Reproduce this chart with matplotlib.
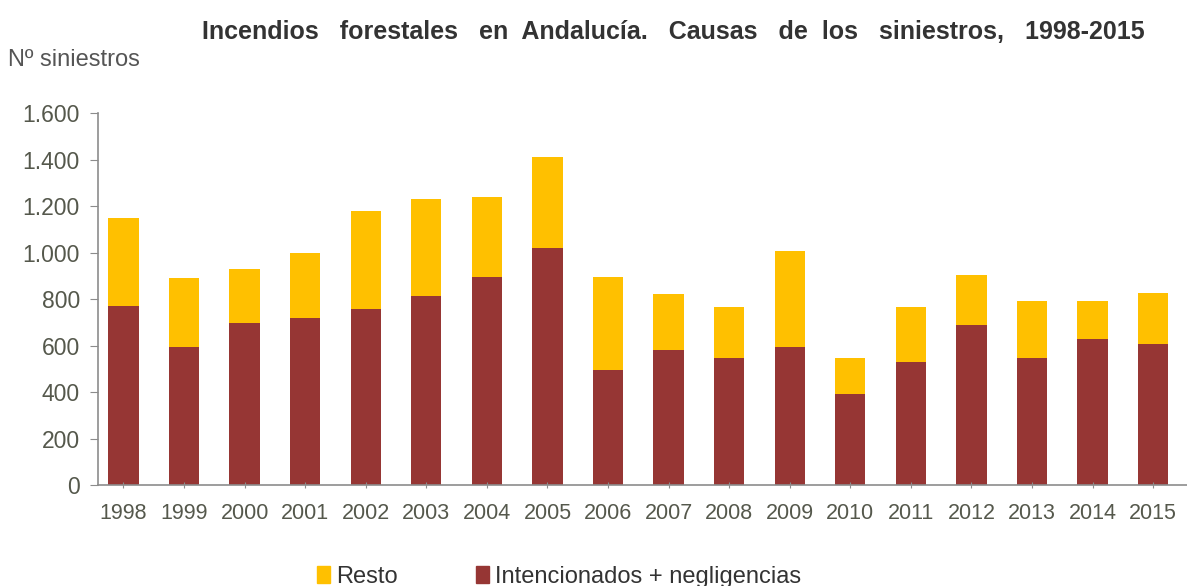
import matplotlib.pyplot as plt
import numpy as np
from matplotlib.patches import Patch
from matplotlib.ticker import FuncFormatter
from matplotlib import font_manager

plt.rcParams["font.family"] = ["Liberation Sans", "DejaVu Sans"]
names = {f.name for f in font_manager.fontManager.ttflist}
title_font = "Liberation Sans Narrow" if "Liberation Sans Narrow" in names else "Liberation Sans"

years = [str(y) for y in range(1998, 2016)]
total = [1150, 889, 930, 999, 1178, 1232, 1239, 1411, 894, 821, 766, 1006, 545, 766, 903, 793, 793, 827]
intencionados = [771, 594, 697, 717, 758, 813, 896, 1019, 497, 580, 545, 594, 394, 531, 690, 545, 628, 607]
resto = [t - i for t, i in zip(total, intencionados)]

c_int = "#963634"
c_resto = "#FFC000"
grey = "#8c8c8c"
txt = "#55584c"

fig = plt.figure(figsize=(11.87, 5.86), dpi=100)
ax = fig.add_axes([0.0826, 0.172, 0.917, 0.635])

x = np.arange(len(years))
ax.bar(x, intencionados, width=0.5, color=c_int)
ax.bar(x, resto, width=0.5, bottom=intencionados, color=c_resto)

ax.set_xlim(-0.42, 17.55)
ax.set_ylim(0, 1600)
ax.set_yticks(range(0, 1601, 200))
ax.yaxis.set_major_formatter(FuncFormatter(lambda v, p: f"{int(v):,}".replace(",", ".")))
ax.set_xticks(x)
ax.set_xticklabels(years)

for s in ["top", "right"]:
    ax.spines[s].set_visible(False)
for s in ["left", "bottom"]:
    ax.spines[s].set_color(grey)
    ax.spines[s].set_linewidth(1.2)

ax.tick_params(axis="y", colors=grey, labelcolor=txt, labelsize=16.5, length=6, pad=7)
ax.tick_params(axis="x", colors=grey, labelcolor=txt, labelsize=15.5, length=5, pad=10, direction="inout")

fig.text(0.567, 0.945, "Incendios   forestales   en  Andalucía.   Causas   de  los   siniestros,   1998-2015",
         ha="center", va="center", fontsize=18, fontweight="bold", color="#333333", family=title_font)
fig.text(0.007, 0.897, "Nº siniestros", ha="left", va="center", fontsize=17, color="#555555")

handles = [Patch(color=c_resto, label="Resto"), Patch(color=c_int, label="Intencionados + negligencias")]
fig.legend(handles=handles, loc="center", bbox_to_anchor=(0.471, 0.016), ncol=2, frameon=False,
           fontsize=17, handlelength=0.55, handleheight=0.7, handletextpad=0.25, columnspacing=3.3,
           labelcolor="#333333")

fig.savefig("out.png", dpi=100)
